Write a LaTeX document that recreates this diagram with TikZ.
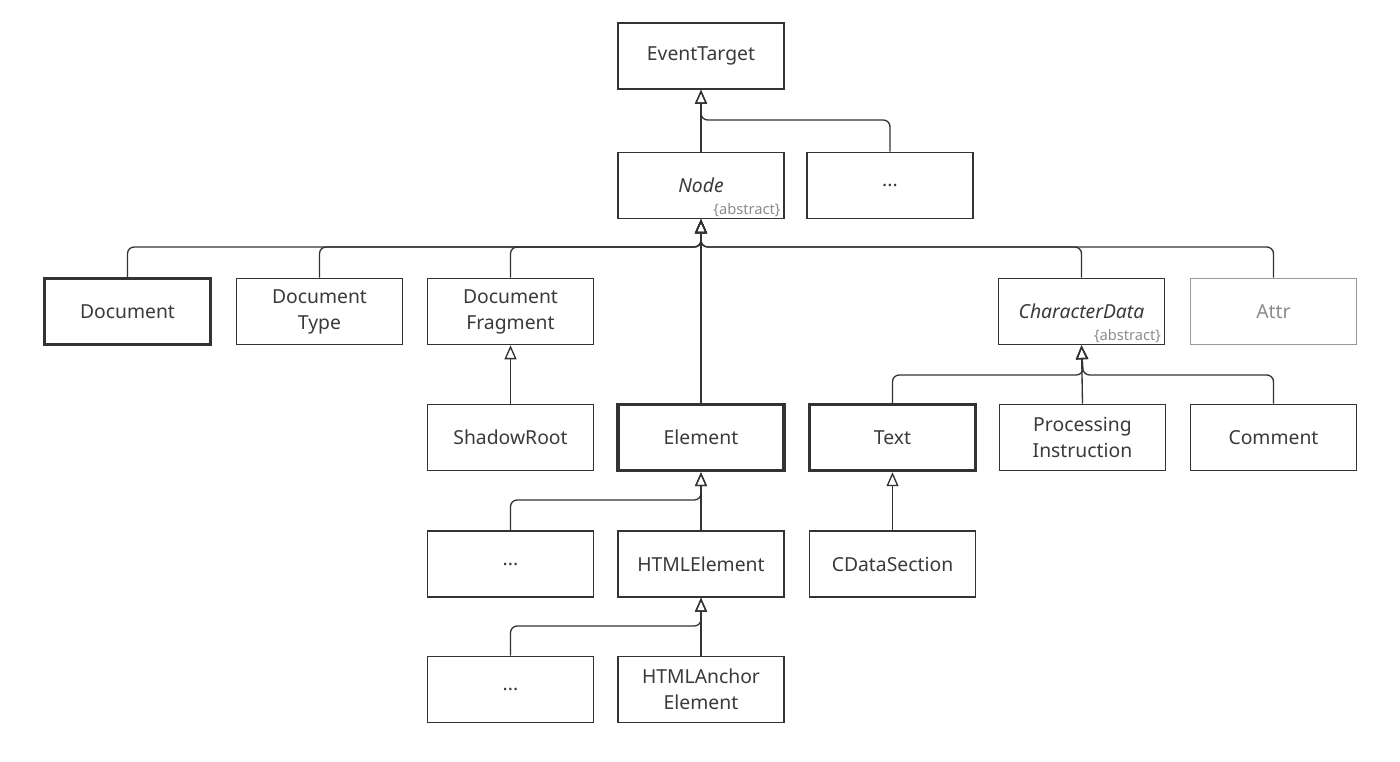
\documentclass[tikz,border=0pt]{standalone}
\usepackage{fontspec}
\setmainfont{Noto Sans}
\usetikzlibrary{arrows.meta}
\definecolor{ink}{HTML}{333333}
\definecolor{txt}{HTML}{3A3A3A}
\definecolor{dim}{HTML}{8C8C8C}
\definecolor{dimline}{HTML}{9A9A9A}
\tikzset{
  cls/.style={draw=ink, line width=1.2pt, text=txt, fill=white,
    minimum width=124.5pt, minimum height=49.5pt, inner sep=0pt,
    align=center, font=\fontsize{14.5}{19.5}\selectfont},
  key/.style={cls, line width=2.6pt},
  faded/.style={cls, draw=dimline, text=dim},
  abs/.style={text=dim, inner sep=0pt, anchor=south east,
    font=\fontsize{11}{12}\selectfont},
  inh/.style={draw=ink, line width=1pt, rounded corners=5pt,
    -{Triangle[open, length=10.5pt, width=9pt, line width=1pt]}},
}
\begin{document}
\begin{tikzpicture}[x=0.75pt, y=-0.75pt]
\useasboundingbox[fill=white] (0,0) rectangle (1400,762);

% nodes
\node[cls] (et) at (701,56) {EventTarget};
\node[cls] (node) at (701,185.5) {\textit{Node}};
\node[abs] (nodeabs) at ([shift={(-4,-2)}]node.south east) {\{abstract\}};
\node[cls] (other) at (890,185.5) {...};

\node[key] (doc) at (127.5,311.5) {Document};
\node[cls] (dtype) at (319.5,311.5) {Document\\Type};
\node[cls] (frag) at (510.5,311.5) {Document\\Fragment};
\node[cls] (cdata) at (1081.5,311.5) {\textit{CharacterData}};
\node[abs] (cdataabs) at ([shift={(-4,-2)}]cdata.south east) {\{abstract\}};
\node[faded] (attr) at (1273.5,311.5) {Attr};

\node[cls] (shadow) at (510.5,437.5) {ShadowRoot};
\node[key] (elem) at (701,437.5) {Element};
\node[key] (text) at (892.5,437.5) {Text};
\node[cls] (pi) at (1082.5,437.5) {Processing\\Instruction};
\node[cls] (comment) at (1273.5,437.5) {Comment};

\node[cls] (dots1) at (510.5,564) {...};
\node[cls] (html) at (701,564) {HTMLElement};
\node[cls] (cds) at (892.5,564) {CDataSection};

\node[cls] (dots2) at (510.5,689.5) {...};
\node[cls] (anchor) at (701,689.5) {HTMLAnchor\\Element};

% bus points
\coordinate (busET) at (701,120);
\coordinate (busNode) at (701,247);
\coordinate (busCD) at (1083,375);
\coordinate (busEl) at (701,500);
\coordinate (busHtml) at (701,626);

% connectors
\draw[inh] (node.north) -- (et.south);
\draw[inh] (other.north) |- (busET) -- (et.south);

\draw[inh] (doc.north) |- (busNode) -- (node.south);
\draw[inh] (dtype.north) |- (busNode) -- (node.south);
\draw[inh] (frag.north) |- (busNode) -- (node.south);
\draw[inh] (elem.north) -- (node.south);
\draw[inh] (cdata.north) |- (busNode) -- (node.south);
\draw[inh] (attr.north) |- (busNode) -- (node.south);

\draw[inh] (shadow.north) -- (frag.south);

\draw[inh] (text.north) |- (busCD) -- (cdata.south);
\draw[inh] (pi.north) -- (cdata.south);
\draw[inh] (comment.north) |- (busCD) -- (cdata.south);

\draw[inh] (dots1.north) |- (busEl) -- (elem.south);
\draw[inh] (html.north) -- (elem.south);

\draw[inh] (cds.north) -- (text.south);

\draw[inh] (dots2.north) |- (busHtml) -- (html.south);
\draw[inh] (anchor.north) -- (html.south);
\end{tikzpicture}
\end{document}
